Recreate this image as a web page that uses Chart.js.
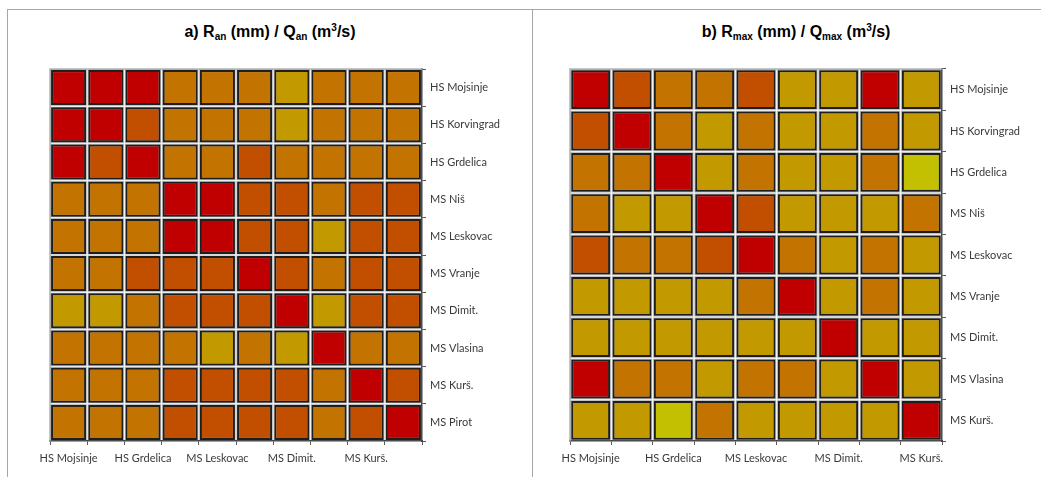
<!DOCTYPE html>
<html>
<head>
<meta charset="utf-8">
<script src="https://cdn.jsdelivr.net/npm/chart.js@4.4.1/dist/chart.umd.min.js"></script>
<style>
  html, body { margin: 0; padding: 0; background: #fff; }
  body { width: 1041px; height: 477px; position: relative; overflow: hidden; }
  .frame { position: absolute; left: 7px; top: 9px; width: 1040px; height: 480px;
           border: 1px solid #a6a6a6; box-sizing: border-box; }
  .divider { position: absolute; left: 532px; top: 9px; width: 1px; height: 470px; background: #a6a6a6; }
  .title { position: absolute; top: 22px; font: bold 16px "Liberation Sans", Arial, sans-serif;
           color: #000; white-space: nowrap; transform: translateX(-50%); line-height: 20px; }
  .title sub { font-size: 10px; vertical-align: -3px; line-height: 0; }
  .title sup { font-size: 10px; vertical-align: 6px; line-height: 0; }
  canvas { position: absolute; top: 0; }
</style>
</head>
<body>
<div class="frame"></div>
<div class="divider"></div>
<div class="title" style="left:270px">a) R<sub>an</sub> (mm) / Q<sub>an</sub> (m<sup>3</sup>/s)</div>
<div class="title" style="left:796px">b) R<sub>max</sub> (mm) / Q<sub>max</sub> (m<sup>3</sup>/s)</div>
<canvas id="chartA" width="531" height="477" style="left:0"></canvas>
<canvas id="chartB" width="521" height="477" style="left:520px"></canvas>
<script>
// Stations of panel a) (annual runoff / discharge) and panel b) (maximum runoff / discharge)
const stationsA = ['HS Mojsinje', 'HS Korvingrad', 'HS Grdelica', 'MS Niš', 'MS Leskovac',
                   'MS Vranje', 'MS Dimit.', 'MS Vlasina', 'MS Kurš.', 'MS Pirot'];
const stationsB = ['HS Mojsinje', 'HS Korvingrad', 'HS Grdelica', 'MS Niš', 'MS Leskovac',
                   'MS Vranje', 'MS Dimit.', 'MS Vlasina', 'MS Kurš.'];

// Correlation coefficients, one row per station (row order = station order)
const corrA0 = [0.95, 0.95, 0.95, 0.75, 0.75, 0.75, 0.65, 0.75, 0.75, 0.75];
const corrA1 = [0.95, 0.95, 0.85, 0.75, 0.75, 0.75, 0.65, 0.75, 0.75, 0.75];
const corrA2 = [0.95, 0.85, 0.95, 0.75, 0.75, 0.85, 0.75, 0.75, 0.75, 0.75];
const corrA3 = [0.75, 0.75, 0.75, 0.95, 0.95, 0.85, 0.85, 0.75, 0.85, 0.85];
const corrA4 = [0.75, 0.75, 0.75, 0.95, 0.95, 0.85, 0.85, 0.65, 0.85, 0.85];
const corrA5 = [0.75, 0.75, 0.85, 0.85, 0.85, 0.95, 0.85, 0.75, 0.85, 0.85];
const corrA6 = [0.65, 0.65, 0.75, 0.85, 0.85, 0.85, 0.95, 0.65, 0.85, 0.85];
const corrA7 = [0.75, 0.75, 0.75, 0.75, 0.65, 0.75, 0.65, 0.95, 0.75, 0.75];
const corrA8 = [0.75, 0.75, 0.75, 0.85, 0.85, 0.85, 0.85, 0.75, 0.95, 0.85];
const corrA9 = [0.75, 0.75, 0.75, 0.85, 0.85, 0.85, 0.85, 0.75, 0.85, 0.95];

const corrB0 = [0.95, 0.85, 0.75, 0.75, 0.85, 0.65, 0.65, 0.95, 0.65];
const corrB1 = [0.85, 0.95, 0.75, 0.65, 0.75, 0.65, 0.65, 0.75, 0.65];
const corrB2 = [0.75, 0.75, 0.95, 0.65, 0.75, 0.65, 0.65, 0.75, 0.55];
const corrB3 = [0.75, 0.65, 0.65, 0.95, 0.85, 0.65, 0.65, 0.65, 0.75];
const corrB4 = [0.85, 0.75, 0.75, 0.85, 0.95, 0.75, 0.65, 0.75, 0.65];
const corrB5 = [0.65, 0.65, 0.65, 0.65, 0.75, 0.95, 0.65, 0.75, 0.65];
const corrB6 = [0.65, 0.65, 0.65, 0.65, 0.65, 0.65, 0.95, 0.65, 0.65];
const corrB7 = [0.95, 0.75, 0.75, 0.65, 0.75, 0.75, 0.65, 0.95, 0.65];
const corrB8 = [0.65, 0.65, 0.55, 0.75, 0.65, 0.65, 0.65, 0.65, 0.95];

const matrixA = [corrA0, corrA1, corrA2, corrA3, corrA4, corrA5, corrA6, corrA7, corrA8, corrA9];
const matrixB = [corrB0, corrB1, corrB2, corrB3, corrB4, corrB5, corrB6, corrB7, corrB8];

// Class colours, from strongest to weakest correlation
function colorFor(v) {
  if (v >= 0.9) return '#C00000';
  if (v >= 0.8) return '#C24E00';
  if (v >= 0.7) return '#C27300';
  if (v >= 0.6) return '#C29A00';
  return '#C2C000';
}

const TEXT = '#3a3a3a';
const FONT = { family: 'Lato, "Open Sans", sans-serif', size: 11 };
const PLOT = 372;           // side of the square plotting area, px
const INSET = 0.03;         // gap around each cell, in cell units
const HALO = 0.012;         // soft grey rim around each cell, in cell units

// light frame on the top and left of the plotting area
const frameLines = {
  id: 'frameLines',
  beforeDatasetsDraw(chart) {
    const { ctx, chartArea: a } = chart;
    ctx.save();
    ctx.strokeStyle = '#b4b4b4';
    ctx.lineWidth = 1.5;
    ctx.beginPath();
    ctx.moveTo(a.left, a.bottom);
    ctx.lineTo(a.left, a.top);
    ctx.lineTo(a.right, a.top);
    ctx.stroke();
    ctx.restore();
  }
};

function buildMatrix(canvasId, stations, matrix, rightAxisWidth) {
  const n = stations.length;
  const cells = stations.map((_, c) => ({
    data: stations.map(() => [c + INSET, c + 1 - INSET]),
    backgroundColor: matrix.map(row => colorFor(row[c])),
    borderColor: '#1e1e1e',
    borderWidth: 2,
    borderSkipped: false,
    grouped: false,
    order: 0,
    barPercentage: 1 - 2 * INSET,
    categoryPercentage: 1
  }));
  const rims = stations.map((_, c) => ({
    data: stations.map(() => [c + HALO, c + 1 - HALO]),
    backgroundColor: 'rgba(110,110,110,0.55)',
    borderWidth: 0,
    grouped: false,
    order: 1,
    barPercentage: 1 - 2 * HALO,
    categoryPercentage: 1
  }));

  new Chart(document.getElementById(canvasId), {
    type: 'bar',
    data: { labels: stations, datasets: cells.concat(rims) },
    options: {
      indexAxis: 'y',
      responsive: false,
      animation: false,
      layout: { padding: { left: 50, top: 69, right: 0, bottom: 0 } },
      plugins: { legend: { display: false }, tooltip: { enabled: false } },
      scales: {
        y: {
          type: 'category',
          position: 'right',
          offset: true,
          grid: { offset: true, drawOnChartArea: false, drawTicks: true, tickLength: 4, color: '#595959', lineWidth: 1 },
          border: { display: true, color: '#404040', width: 1.5 },
          ticks: { color: TEXT, font: FONT, padding: 4, autoSkip: false },
          afterFit(scale) { scale.width = rightAxisWidth; }
        },
        x: {
          type: 'linear',
          min: 0,
          max: n,
          grid: { drawOnChartArea: false, drawTicks: true, tickLength: 4, color: '#595959', lineWidth: 1 },
          border: { display: true, color: '#404040', width: 1.5 },
          ticks: {
            stepSize: 1,
            autoSkip: false,
            maxRotation: 0,
            color: TEXT,
            font: FONT,
            padding: 7,
            labelOffset: PLOT / n / 2,
            callback: (v) => (v % 2 === 0 && v < n) ? stations[v] : ''
          },
          afterFit(scale) { scale.height = 36; }
        }
      }
    },
    plugins: [frameLines]
  });
}

buildMatrix('chartA', stationsA, matrixA, 531 - 50 - PLOT);
buildMatrix('chartB', stationsB, matrixB, 521 - 50 - PLOT);
</script>
</body>
</html>
